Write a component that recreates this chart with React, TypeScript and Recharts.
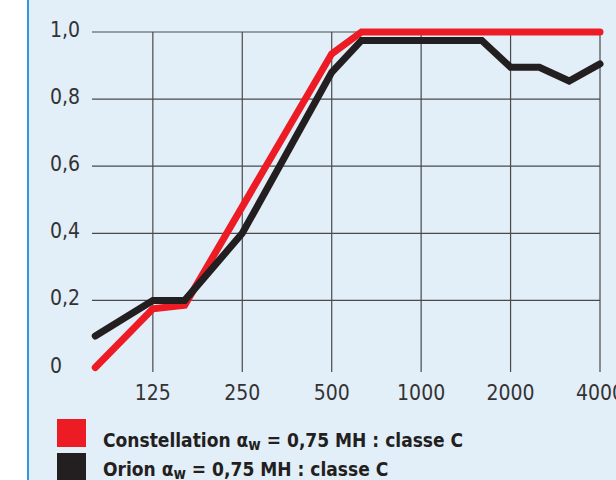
import { LineChart, Line, XAxis, YAxis, CartesianGrid, Legend } from 'recharts';

// third-octave frequencies (Hz) and absorption coefficient
const constellationFreq = [80, 125, 160, 500, 630, 4000];
const constellationAlpha = [0.0, 0.175, 0.186, 0.935, 1.0, 1.0];

const orionFreq = [80, 125, 160, 250, 500, 630, 1600, 2000, 2500, 3150, 4000];
const orionAlpha = [0.094, 0.2, 0.2, 0.4, 0.88, 0.975, 0.975, 0.895, 0.895, 0.854, 0.905];

const freqTicks = [125, 250, 500, 1000, 2000, 4000];
const alphaTicks = [0, 0.2, 0.4, 0.6, 0.8, 1.0];
const gridAlpha = [0.2, 0.4, 0.6, 0.8, 1.0];

const constellationData = constellationFreq.map((f, i) => ({ f, alpha: constellationAlpha[i] }));
const orionData = orionFreq.map((f, i) => ({ f, alpha: orionAlpha[i] }));

const RED = '#ed1c24';
const BLACK = '#231f20';
const TICK_FONT = "'DejaVu Sans Condensed', 'DejaVu Sans', sans-serif";
const LEGEND_FONT = "'DejaVu Sans Condensed', 'DejaVu Sans', sans-serif";

const fmt = (v: number) => (v === 0 ? '0' : v.toFixed(1).replace('.', ','));

const YTick = (props: any) => {
    const { y, payload } = props;
    return (
        <text x={50} y={y} dy={5} textAnchor="start" fill="#333" fontSize={21} fontFamily={TICK_FONT} style={{ fontStretch: 'condensed' }}>
            {fmt(payload.value)}
        </text>
    );
};

const XTick = (props: any) => {
    const { x, payload } = props;
    return (
        <text x={x} y={400} textAnchor="middle" fill="#333" fontSize={21} fontFamily={TICK_FONT} style={{ fontStretch: 'condensed' }}>
            {payload.value}
        </text>
    );
};

const legendItems = [
    { name: 'Constellation', color: RED, boxTop: 0, textTop: 11 },
    { name: 'Orion', color: BLACK, boxTop: 34, textTop: 40 },
];

const LegendContent = () => (
    <div style={{ position: 'relative', width: 500, height: 61 }}>
        {legendItems.map((item) => (
            <div key={item.name}>
                <div style={{ position: 'absolute', left: 0, top: item.boxTop, width: 29, height: 28, background: item.color }} />
                <div
                    style={{
                        position: 'absolute',
                        left: 46,
                        top: item.textTop,
                        whiteSpace: 'nowrap',
                        fontFamily: LEGEND_FONT,
                        fontWeight: 700,
                        fontSize: 19,
                        lineHeight: '20px',
                        color: BLACK,
                    }}
                >
                    {item.name} α<sub style={{ fontSize: 15, verticalAlign: -3, lineHeight: 0 }}>w</sub> = 0,75 MH : classe C
                </div>
            </div>
        ))}
    </div>
);

export default function App() {
    return (
        <div style={{ position: 'fixed', left: 0, top: 0, width: 616, height: 480, background: '#fff', overflow: 'hidden' }}>
            <div style={{ position: 'absolute', left: 27, top: 0, width: 589, height: 480, background: '#e2eef8', borderLeft: '2.5px solid #2f9ae0', boxSizing: 'border-box' }} />
            <div style={{ position: 'absolute', left: 0, top: 0 }}>
                <LineChart width={616} height={480} margin={{ top: 32, right: 16, bottom: 0, left: 0 }}>
                    <CartesianGrid
                        stroke="#4a4a4a"
                        strokeWidth={1.2}
                        horizontalValues={gridAlpha}
                        verticalValues={freqTicks}
                    />
                    <XAxis
                        dataKey="f"
                        type="number"
                        scale="log"
                        domain={[78, 4000]}
                        ticks={freqTicks}
                        axisLine={false}
                        tickLine={false}
                        height={108}
                        tick={<XTick />}
                    />
                    <YAxis
                        type="number"
                        domain={[-0.0134, 1]}
                        ticks={alphaTicks}
                        axisLine={false}
                        tickLine={false}
                        width={92}
                        tick={<YTick />}
                    />
                    <Legend
                        layout="horizontal"
                        verticalAlign="middle"
                        align="center"
                        content={<LegendContent />}
                        wrapperStyle={{ left: 57, top: 419, width: 500, height: 61 }}
                    />
                    <Line
                        data={constellationData}
                        dataKey="alpha"
                        name="Constellation"
                        type="linear"
                        stroke={RED}
                        strokeWidth={7}
                        strokeLinecap="round"
                        strokeLinejoin="miter"
                        dot={false}
                        activeDot={false}
                        isAnimationActive={false}
                    />
                    <Line
                        data={orionData}
                        dataKey="alpha"
                        name="Orion"
                        type="linear"
                        stroke={BLACK}
                        strokeWidth={7}
                        strokeLinecap="round"
                        strokeLinejoin="miter"
                        dot={false}
                        activeDot={false}
                        isAnimationActive={false}
                    />
                </LineChart>
            </div>
        </div>
    );
}
